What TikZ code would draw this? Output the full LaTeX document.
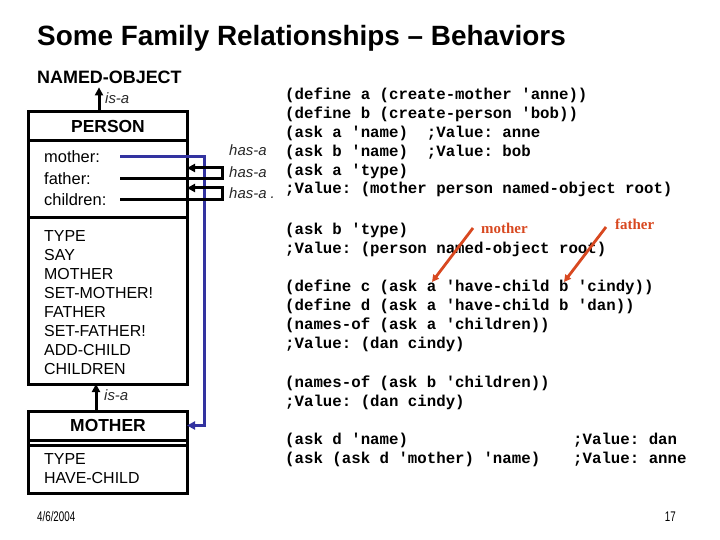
\documentclass[tikz,border=0pt]{standalone}
\usepackage{fontspec}
\usepackage{graphicx}
\setmainfont{Liberation Sans}
\setmonofont{Liberation Mono}
\newfontfamily\notefont{Liberation Serif}
\usetikzlibrary{arrows.meta,calc}
\definecolor{linkblue}{RGB}{51,51,160}
\definecolor{notered}{RGB}{216,72,32}
\definecolor{relgray}{RGB}{40,40,40}

\begin{document}
\begin{tikzpicture}[x=1bp,y=-1bp,every node/.style={inner sep=0pt},
        box/.style={draw=black,line width=3bp,outer sep=0pt,minimum width=158bp},
        head/.style={font=\fontsize{17.5}{20}\selectfont\bfseries},
        slot/.style={anchor=west,font=\fontsize{16.5}{19}\selectfont,text width=76bp,align=left},
        meth/.style={anchor=north west,font=\fontsize{16}{19}\selectfont,align=left},
        rel/.style={anchor=west,font=\fontsize{15}{17}\selectfont\itshape,text=relgray},
        code/.style={anchor=north west,font=\fontsize{15.8}{19}\selectfont\ttfamily\bfseries,align=left},
        note/.style={font=\fontsize{15}{17}\selectfont\notefont\bfseries,text=notered},
        foot/.style={font=\fontsize{14}{16}\selectfont},
        link/.style={line width=3bp,-{Triangle[length=8bp,width=8bp]}},
        notelink/.style={line width=2.8bp,draw=notered,-{Triangle[length=7bp,width=7bp]}}]
            \useasboundingbox (0,0) rectangle (720,540);

            \node[anchor=base west,font=\fontsize{28}{32}\selectfont\bfseries] (title) at (37,46) {Some Family Relationships – Behaviors};
            \node[anchor=base west,font=\fontsize{18}{20}\selectfont\bfseries] (named) at (37,84) {NAMED-OBJECT};

            \node[box,head,minimum height=29bp] (persontop) at (108,126.5) {PERSON};
            \node[box,minimum height=76bp,anchor=north] (personslots) at (persontop.south) {};
            \node[box,minimum height=167bp,anchor=north] (personmeth) at (personslots.south) {};
            \node[slot] (mo) at (44,157) {mother:};
            \node[slot] (fa) at (44,179) {father:};
            \node[slot] (ch) at (44,200) {children:};
            \node[meth] (methods) at (44,230.5) {TYPE\\SAY\\MOTHER\\SET-MOTHER!\\FATHER\\SET-FATHER!\\ADD-CHILD\\CHILDREN};

            \node[box,head,minimum height=29bp] (mothertop) at (108,425.5) {MOTHER};
            \node[box,minimum height=5bp,anchor=north] (mothergap) at (mothertop.south) {};
            \node[box,minimum height=48bp,anchor=north] (motherbody) at (mothergap.south) {};
            \node[meth] (mothermeth) at (44,453.5) {TYPE\\HAVE-CHILD};

            \coordinate (isaup) at ($(persontop.north)+(-9,0)$);
            \coordinate (isadown) at ($(mothertop.north)+(-12,0)$);
            \draw[link,shorten >=3bp] (isaup) -- (isaup |- named.south);
            \draw[link] (isadown) -- (isadown |- personmeth.south);
            \node[rel] (isanamed) at (105,98) {is-a};
            \node[rel] (isaperson) at (104,395) {is-a};

            \draw[link,linkblue] (mo.east) -| ($(mothertop.east)+(17,0)$) -- (mothertop.east);
            \draw[link] (fa.east) -| ($(fa.east)+(102,-11)$) -- ($(fa.east -| personslots.east)+(0,-11)$);
            \draw[link] (ch.east) -| ($(ch.east)+(102,-12)$) -- ($(ch.east -| personslots.east)+(0,-12)$);
            \node[rel] (hasmo) at (229,150) {has-a};
            \node[rel] (hasfa) at (229,172) {has-a};
            \node[rel] (hasch) at (229,193) {has-a .};

            \node[code] (defs) at (285,87.5) {(define a (create-mother 'anne))\\(define b (create-person 'bob))\\(ask a 'name)~~;Value: anne\\(ask b 'name)~~;Value: bob\\(ask a 'type)\\;Value: (mother person named-object root)};
            \node[code] (typeb) at (285,222.5) {(ask b 'type)\\;Value: (person named-object root)};
            \node[code] (kids) at (285,279.5) {(define c (ask a 'have-child b 'cindy))\\(define d (ask a 'have-child b 'dan))\\(names-of (ask a 'children))\\;Value: (dan cindy)};
            \node[code] (kidsb) at (285,375.5) {(names-of (ask b 'children))\\;Value: (dan cindy)};
            \node[code] (askd) at (285,432.5) {(ask d 'name)\\(ask (ask d 'mother) 'name)};
            \node[code] (askdval) at (573,432.5) {;Value: dan\\;Value: anne};

            \node[note,anchor=west] (notemo) at (481,228) {mother};
            \node[note,anchor=west] (notefa) at (615,224) {father};
            \coordinate (ptmo) at (432,282);
            \coordinate (ptfa) at (564,282);
            \draw[notelink] ($(notemo.west)+(-8,0)$) -- (ptmo);
            \draw[notelink] ($(notefa.west)+(-9,3)$) -- (ptfa);

            \node[foot,anchor=base west] (date) at (37,521) {\scalebox{0.7}[1]{4/6/2004}};
            \node[foot,anchor=base east] (page) at (676,521) {\scalebox{0.7}[1]{17}};
        \end{tikzpicture}
\end{document}
